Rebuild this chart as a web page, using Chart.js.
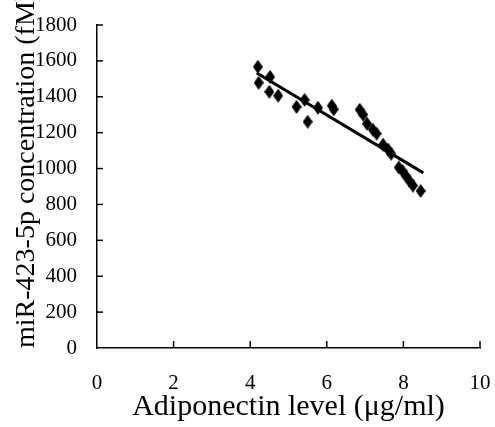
<!DOCTYPE html>
<html>
<head>
<meta charset="utf-8">
<script src="https://cdn.jsdelivr.net/npm/chart.js@4"></script>
<style>
  html, body { margin: 0; padding: 0; background: #fff; }
  #wrap { width: 495px; height: 427px; }
</style>
</head>
<body>
<div id="wrap"><canvas id="scatter-adipo"></canvas></div>
<script>
// adiponectin level (ug/ml) and miR-423-5p concentration (fM)
var adipo = [4.20, 4.22, 4.52, 4.50, 4.73, 5.21, 5.42, 5.50, 5.77, 6.13, 6.18, 6.86, 6.95, 7.05, 7.20, 7.30, 7.47, 7.60, 7.68, 7.88, 7.98, 8.06, 8.16, 8.25, 8.45];
var mir = [1567, 1478, 1511, 1428, 1406, 1344, 1383, 1261, 1339, 1350, 1330, 1328, 1300, 1250, 1217, 1195, 1133, 1106, 1083, 1006, 985, 960, 930, 905, 875];

// regression line ends
var fitX = [4.17, 8.52];
var fitY = [1533, 976];

var xTicks = [0, 2, 4, 6, 8, 10];
var yTicks = [0, 200, 400, 600, 800, 1000, 1200, 1400, 1600, 1800];

document.addEventListener("DOMContentLoaded", function() {
    const el = document.getElementById('scatter-adipo');

    // diamond marker, a bit taller than wide like the original
    var diamond = document.createElement('canvas');
    diamond.width = 10; diamond.height = 14;
    var dctx = diamond.getContext('2d');
    dctx.fillStyle = '#000';
    dctx.beginPath();
    dctx.moveTo(5, 0); dctx.lineTo(10, 7); dctx.lineTo(5, 14); dctx.lineTo(0, 7);
    dctx.closePath();
    dctx.fill();

    // short tick marks pointing into the plot
    const innerTicks = {
        id: 'innerTicks',
        afterDraw(chart) {
            const ctx = chart.ctx, area = chart.chartArea;
            const xs = chart.scales.x, ys = chart.scales.y;
            ctx.save();
            ctx.strokeStyle = '#000';
            ctx.lineWidth = 1.5;
            xs.ticks.forEach(function(t, i) {
                if (i === 0) return;
                const px = xs.getPixelForTick(i);
                ctx.beginPath(); ctx.moveTo(px, area.bottom); ctx.lineTo(px, area.bottom - 7); ctx.stroke();
            });
            ys.ticks.forEach(function(t, i) {
                if (i === 0) return;
                const py = ys.getPixelForTick(i);
                ctx.beginPath(); ctx.moveTo(area.left, py); ctx.lineTo(area.left + 6, py); ctx.stroke();
            });
            ctx.restore();
        }
    };

    new Chart(el, {
        type: 'scatter',
        data: {
            datasets: [{
                label: 'miR-423-5p',
                data: adipo.map(function(v, i) { return {x: v, y: mir[i]}; }),
                pointStyle: diamond,
                pointRadius: 5,
                order: 2
            }, {
                type: 'line',
                label: 'fit',
                data: fitX.map(function(v, i) { return {x: v, y: fitY[i]}; }),
                borderColor: '#000',
                borderWidth: 3,
                pointRadius: 0,
                fill: false,
                order: 1
            }]
        },
        options: {
            responsive: true,
            maintainAspectRatio: false,
            animation: false,
            layout: { padding: { top: 25, right: 15, left: 0, bottom: 0 } },
            plugins: {
                legend: { display: false },
                tooltip: { enabled: false }
            },
            scales: {
                x: {
                    type: 'linear',
                    min: 0, max: 10,
                    afterBuildTicks: function(s) { s.ticks = xTicks.map(function(v) { return {value: v}; }); },
                    afterFit: function(s) {
                        s.height = 79;
                        s.paddingLeft = 0;
                        s.paddingRight = 0;
                    },
                    grid: { display: false },
                    border: { display: true, color: '#000', width: 1.5 },
                    ticks: {
                        color: '#000',
                        padding: 15,
                        font: { family: 'Liberation Serif', size: 21 },
                        callback: function(value) { return String(value); }
                    },
                    title: {
                        display: true,
                        text: 'Adiponectin level (μg/ml)',
                        color: '#000',
                        font: { family: 'Liberation Serif', size: 30 },
                        padding: { top: 0, bottom: 2 }
                    }
                },
                y: {
                    min: 0, max: 1800,
                    afterBuildTicks: function(s) { s.ticks = yTicks.map(function(v) { return {value: v}; }); },
                    afterFit: function(s) {
                        s.width = 97;
                        s.paddingTop = 0;
                        s.paddingBottom = 0;
                    },
                    grid: { display: false },
                    border: { display: true, color: '#000', width: 1.5 },
                    ticks: {
                        color: '#000',
                        padding: 12,
                        font: { family: 'Liberation Serif', size: 21 },
                        callback: function(value) { return String(value); }
                    },
                    title: {
                        display: true,
                        align: 'start',
                        text: 'miR-423-5p concentration (fM)',
                        color: '#000',
                        font: { family: 'Liberation Serif', size: 28 },
                        padding: { top: 10, bottom: 0 }
                    }
                }
            }
        },
        plugins: [innerTicks]
    });
});
</script>
</body>
</html>
